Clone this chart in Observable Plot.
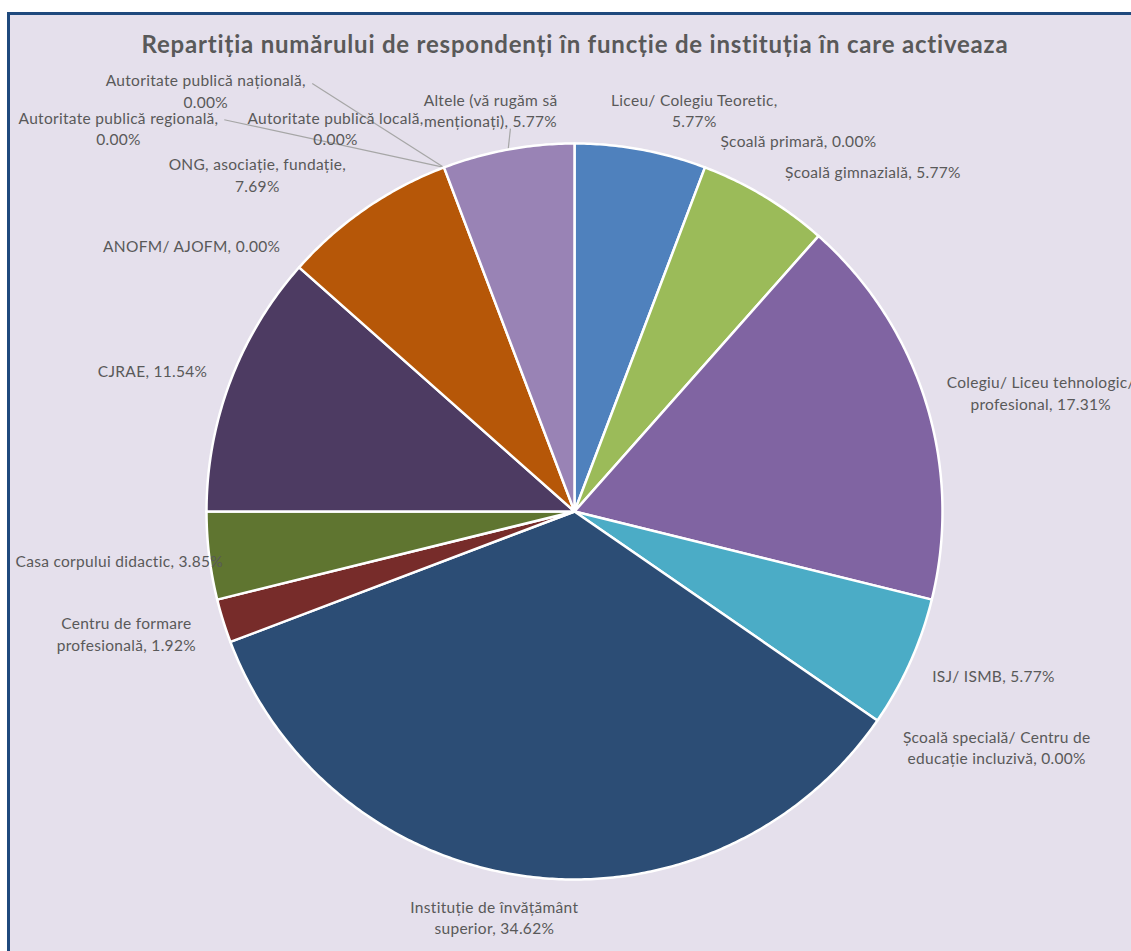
<!DOCTYPE html>
<html>
<head>
<meta charset="utf-8">
<script src="https://cdn.jsdelivr.net/npm/d3@7"></script>
<script src="https://cdn.jsdelivr.net/npm/@observablehq/plot@0.6"></script>
<style>
  html, body { margin: 0; padding: 0; background: #ffffff; overflow: hidden; }
  body { width: 1131px; height: 951px; position: relative; font-family: Lato, "Open Sans", sans-serif; }
  #frame { position: absolute; left: 7px; top: 12px; width: 1130px; height: 960px;
           background: #E5E0EC; border-left: 3px solid #1F497D; border-top: 3px solid #1F497D; }
  #title { position: absolute; left: 0; top: 29px; width: 1150px; text-align: center;
           font-weight: bold; font-size: 24px; letter-spacing: 0.8px; color: #595959; white-space: nowrap; }
  #chart { position: absolute; left: 0; top: 60px; }
</style>
</head>
<body>
<div id="frame"></div>
<div id="title">Repartiția numărului de respondenți în funcție de instituția în care activeaza</div>
<div id="chart"></div>
<script>
// ---- data (clockwise from 12 o'clock) ----
const categories = [
  "Liceu/ Colegiu Teoretic",
  "Școală primară",
  "Școală gimnazială",
  "Colegiu/ Liceu tehnologic/ profesional",
  "ISJ/ ISMB",
  "Școală specială/ Centru de educație incluzivă",
  "Instituție de învățământ superior",
  "Centru de formare profesională",
  "Casa corpului didactic",
  "CJRAE",
  "ANOFM/ AJOFM",
  "ONG, asociație, fundație",
  "Autoritate publică regională",
  "Autoritate publică națională",
  "Autoritate publică locală",
  "Altele (vă rugăm să menționați)"
];
const percents = [5.77, 0.00, 5.77, 17.31, 5.77, 0.00, 34.62, 1.92, 3.85, 11.54, 0.00, 7.69, 0.00, 0.00, 0.00, 5.77];
const colors = ["#4F81BD", "#C0504D", "#9BBB59", "#8064A2", "#4BACC6", "#F79646", "#2C4D75", "#772C2A",
                "#5F7530", "#4D3B62", "#276A7C", "#B65708", "#729ACA", "#CD7371", "#AFC97A", "#9983B5"];

// ---- label layout (Excel best-fit placement): angle in degrees clockwise from top, distance in radii ----
const labelAngle = [16.6, 31.1, 41.2, 75.6, 111.3, 119.1, 191.2, 254.8, 263.9, 288.5, 304.8, 316.8, 310.1, 318.8, 328.1, 348.2];
const labelDist  = [1.140, 1.178, 1.231, 1.308, 1.222, 1.313, 1.122, 1.262, 1.244, 1.209, 1.267, 1.259, 1.620, 1.521, 1.229, 1.116];
const labelWrap  = [3, 0, 0, 3, 0, 4, 3, 3, 0, 0, 0, 3, 3, 3, 3, 4]; // words on the first line (0 = one line)
// leader lines: start point (angle, distance) for labels that have one
const leaderAngle = [null, null, null, null, null, null, null, null, null, null, null, null, 318.2, 328.5, null, 350.5];
const leaderDist  = [null, null, null, null, null, null, null, null, null, null, null, null, 1.428, 1.364, null, 1.055];

// ---- geometry in pie units (radius = 1) ----
const R = 368, CX = 574, CY = 451, W = 1131, H = 891;
const total = d3.sum(percents);
const rad = (deg) => deg * Math.PI / 180;
const polar = (a, r) => ({x: r * Math.sin(a), y: r * Math.cos(a)});

const slicePoints = [];
const sliceAngles = [];
let cum = 0;
percents.forEach((p, i) => {
  const a0 = cum / total * 2 * Math.PI;
  cum += p;
  const a1 = cum / total * 2 * Math.PI;
  sliceAngles.push({a0, a1, mid: (a0 + a1) / 2});
  if (p <= 0) return;
  const cat = categories[i];
  slicePoints.push({cat, x: 0, y: 0});
  const n = Math.max(2, Math.ceil((a1 - a0) / rad(0.5)));
  for (let k = 0; k <= n; k++) {
    const t = a0 + (a1 - a0) * k / n;
    slicePoints.push({cat, ...polar(t, 1)});
  }
  slicePoints.push({cat, x: 0, y: 0});
});

const labels = categories.map((c, i) => {
  const words = (c + ", " + percents[i].toFixed(2) + "%").split(" ");
  const n = labelWrap[i];
  const text = n ? words.slice(0, n).join(" ") + "\n" + words.slice(n).join(" ") : words.join(" ");
  return {text, ...polar(rad(labelAngle[i]), labelDist[i])};
});

const leaders = [];
categories.forEach((c, i) => {
  if (leaderAngle[i] == null) return;
  const s = polar(rad(leaderAngle[i]), leaderDist[i]);
  const e = polar(sliceAngles[i].mid, 1.0);
  leaders.push({x1: s.x, y1: s.y, x2: e.x, y2: e.y});
});

const chart = Plot.plot({
  width: W,
  height: H,
  margin: 0,
  x: {domain: [-CX / R, (W - CX) / R], axis: null},
  y: {domain: [-(H - CY) / R, CY / R], axis: null},
  color: {type: "ordinal", domain: categories, range: colors},
  style: {background: "transparent", fontFamily: "Lato, 'Open Sans', sans-serif", overflow: "visible", letterSpacing: "0.3px"},
  marks: [
    Plot.link(leaders, {x1: "x1", y1: "y1", x2: "x2", y2: "y2", stroke: "#A6A6A6", strokeWidth: 1.2}),
    Plot.line(slicePoints, {x: "x", y: "y", z: "cat", fill: "cat", stroke: "white", strokeWidth: 2.5, curve: "linear", strokeLinejoin: "round"}),
    Plot.text(labels, {x: "x", y: "y", text: "text", fontSize: 15.5, lineHeight: 1.4, fill: "#595959", textAnchor: "middle"})
  ]
});
document.getElementById("chart").appendChild(chart);
</script>
</body>
</html>
